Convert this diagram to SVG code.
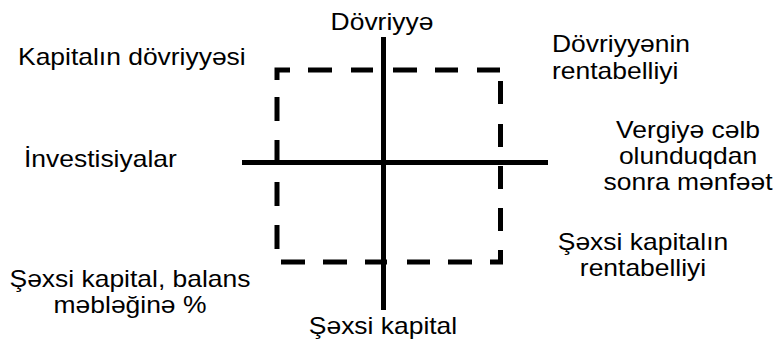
<svg xmlns="http://www.w3.org/2000/svg" width="778" height="339" viewBox="0 0 778 339">
<style>
.axis{stroke:#000;stroke-width:5;fill:none}
.dash{stroke:#000;stroke-width:5;fill:none;stroke-linecap:butt;stroke-linejoin:miter}
text{font-family:"Liberation Sans",Arial,sans-serif;font-size:23px;fill:#000}
.m{text-anchor:middle}
</style>
<rect width="778" height="339" fill="#fff"/>
<g id="connectors">
<path id="frame" class="dash" d="M277,80 L277,70 L290,70 M308,70 L332,70 M351,70 L373,70 M393,70 L417,70 M435,70 L458,70 M477,70 L500,70 M500.5,81 L500.5,104 M500.5,124 L500.5,147 M500.5,166 L500.5,189 M500.5,208 L500.5,231 M500.5,250 L500.5,262 L490,262 M472,262 L448,262 M430,262 L407,262 M387,262 L365,262 M347,262 L323,262 M305,262 L281,262 M277,249 L277,225 M277,206 L277,182 M277,164 L277,140 M277,121 L277,97"/>
<line id="v-axis" class="axis" x1="383.5" y1="37" x2="383.5" y2="310"/>
<line id="h-axis" class="axis" x1="242" y1="162.5" x2="548" y2="162.5"/>
</g>
<g id="n-top"><text class="m" transform="translate(382,0) scale(1.15,1)" x="0" y="30">Dövriyyə</text></g>
<g id="n-bottom"><text class="m" transform="translate(383,0) scale(1.15,1)" x="0" y="334">Şəxsi kapital</text></g>
<g id="n-left"><text transform="translate(24,0) scale(1.15,1)" x="0" y="167">İnvestisiyalar</text></g>
<g id="n-right"><text class="m" transform="translate(688,0) scale(1.15,1)"><tspan x="0" y="138">Vergiyə cəlb</tspan><tspan x="0" y="164">olunduqdan</tspan><tspan x="0" y="190">sonra mənfəət</tspan></text></g>
<g id="n-tl"><text transform="translate(18,0) scale(1.15,1)" x="0" y="65">Kapitalın dövriyyəsi</text></g>
<g id="n-tr"><text transform="translate(552,0) scale(1.15,1)"><tspan x="0" y="52">Dövriyyənin</tspan><tspan x="0" y="79">rentabelliyi</tspan></text></g>
<g id="n-bl"><text class="m" transform="translate(130,0) scale(1.15,1)"><tspan x="0" y="287">Şəxsi kapital, balans</tspan><tspan x="0" y="313">məbləğinə %</tspan></text></g>
<g id="n-br"><text class="m" transform="translate(643,0) scale(1.15,1)"><tspan x="0" y="250">Şəxsi kapitalın</tspan><tspan x="0" y="276">rentabelliyi</tspan></text></g>
</svg>
